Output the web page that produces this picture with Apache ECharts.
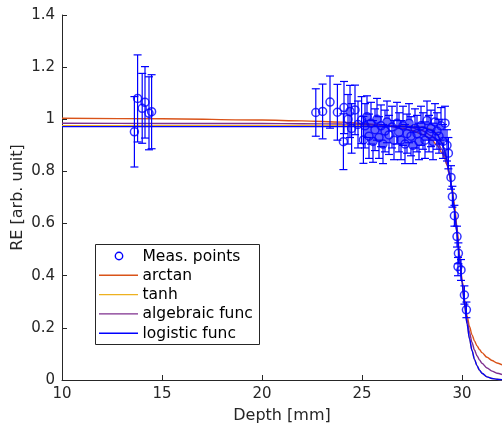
<!DOCTYPE html>
<html><head><meta charset="utf-8">
<script src="https://cdn.jsdelivr.net/npm/echarts@6/dist/echarts.min.js"></script>
<style>html,body{margin:0;padding:0;background:#fff}#c{width:502px;height:430px}</style>
</head><body><div id="c"></div>
<script>
// ---- data ----
const seriesNames = ['Meas. points', 'arctan', 'tanh', 'algebraic func', 'logistic func'];
const xTicks = [10, 15, 20, 25, 30];
const yTicks = [0, 0.2, 0.4, 0.6, 0.8, 1, 1.2, 1.4];

const measX = [13.62, 13.78, 14.01, 14.15, 14.35, 14.48,
  22.69, 23.03, 23.40, 23.77, 24.07, 24.10, 24.30, 24.40, 24.48, 24.65, 24.80, 24.98, 25.07,
  25.15, 25.25, 25.35, 25.45, 25.55, 25.65, 25.75, 25.85, 25.95, 26.05, 26.15, 26.25, 26.35, 26.50, 26.60,
  26.75, 26.85, 26.95, 27.05, 27.15, 27.25, 27.35, 27.45, 27.55, 27.65, 27.75, 27.85, 27.95, 28.05, 28.15,
  28.25, 28.35, 28.45, 28.55, 28.65, 28.75, 28.85, 28.95, 29.05, 29.15, 29.25, 29.32,
  29.45, 29.52, 29.62, 29.75, 29.82, 29.80, 29.95, 30.12, 30.22];
const measY = [0.952, 1.080, 1.042, 1.065, 1.023, 1.029,
  1.026, 1.030, 1.066, 1.027, 0.914, 1.045, 1.000, 1.030, 0.965, 1.036, 0.980, 0.997, 0.921,
  0.975, 1.010, 0.935, 0.985, 0.915, 0.960, 1.000, 0.930, 0.975, 0.905, 0.955, 0.990, 0.940, 0.970, 0.920,
  0.985, 0.950, 0.920, 0.975, 0.905, 0.945, 0.985, 0.935, 0.900, 0.965, 0.945, 0.915, 0.975, 0.955, 0.920,
  0.995, 0.945, 0.965, 0.915, 0.990, 0.955, 0.935, 0.975, 0.915, 0.985, 0.900, 0.870,
  0.777, 0.703, 0.630, 0.550, 0.486, 0.435, 0.422, 0.326, 0.269];
const measErr = [0.135, 0.167, 0.134, 0.137, 0.140, 0.142,
  0.091, 0.105, 0.100, 0.107, 0.107, 0.100, 0.095, 0.100, 0.095, 0.095, 0.090, 0.090, 0.090,
  0.085, 0.080, 0.085, 0.080, 0.080, 0.080, 0.080, 0.080, 0.080, 0.075, 0.080, 0.080, 0.075, 0.080, 0.075,
  0.080, 0.075, 0.075, 0.075, 0.075, 0.075, 0.075, 0.075, 0.070, 0.075, 0.070, 0.070, 0.075, 0.070, 0.070,
  0.075, 0.070, 0.070, 0.070, 0.070, 0.070, 0.065, 0.070, 0.065, 0.065, 0.060, 0.060,
  0.045, 0.040, 0.040, 0.040, 0.040, 0.035, 0.040, 0.035, 0.030];

const fitX = [10, 15, 20, 22, 24, 25, 26, 27, 27.5, 28, 28.5, 28.75, 29, 29.125, 29.25, 29.375, 29.5, 29.625,
  29.75, 29.875, 30, 30.125, 30.25, 30.375, 30.5, 30.625, 30.75, 30.875, 31, 31.25, 31.5, 31.75, 32];
const arctanY = [1.004, 1.002, 0.997, 0.994, 0.989, 0.984, 0.978, 0.966, 0.957, 0.943, 0.920, 0.900, 0.872, 0.851,
  0.825, 0.789, 0.740, 0.673, 0.586, 0.484, 0.387, 0.308, 0.248, 0.205, 0.174, 0.150, 0.131, 0.117, 0.105,
  0.087, 0.075, 0.065, 0.058];
const tanhY = [0.975, 0.975, 0.975, 0.975, 0.975, 0.975, 0.975, 0.975, 0.974, 0.972, 0.961, 0.945, 0.911, 0.884,
  0.846, 0.795, 0.731, 0.652, 0.563, 0.468, 0.375, 0.290, 0.217, 0.158, 0.113, 0.079, 0.055, 0.038, 0.026,
  0.012, 0.006, 0.003, 0.001];
const algebraicY = [0.985, 0.984, 0.984, 0.983, 0.982, 0.981, 0.978, 0.973, 0.967, 0.957, 0.936, 0.916, 0.884, 0.859,
  0.826, 0.783, 0.726, 0.654, 0.567, 0.474, 0.382, 0.301, 0.234, 0.183, 0.144, 0.115, 0.093, 0.077, 0.064,
  0.046, 0.034, 0.026, 0.021];
const logisticY = [0.972, 0.972, 0.972, 0.972, 0.972, 0.972, 0.972, 0.972, 0.971, 0.969, 0.958, 0.942, 0.908, 0.881,
  0.843, 0.792, 0.728, 0.650, 0.561, 0.467, 0.374, 0.289, 0.216, 0.158, 0.113, 0.079, 0.055, 0.038, 0.026,
  0.012, 0.006, 0.003, 0.001];

// ---- chart ----
const colors = ['#0000ff', '#D95319', '#EDB120', '#7E2F8E', '#0000ff'];
const FONT = 'DejaVu Sans';
const axisCol = '#262626';
const chart = echarts.init(document.getElementById('c'), null, {renderer: 'canvas'});

function curve(name, ys, color) {
  return {
    name: name, type: 'line', data: fitX.map((x, i) => [x, ys[i]]),
    showSymbol: false, smooth: 0.3, smoothMonotone: 'x',
    lineStyle: {color: color, width: 1.4}, itemStyle: {color: color}, z: 2, silent: true
  };
}

const legendRows = [256, 275.3, 294.6, 313.9, 333.2];
const legendGraphics = [{
  type: 'rect', shape: {x: 95.5, y: 244.5, width: 164, height: 100},
  style: {fill: '#fff', stroke: axisCol, lineWidth: 1}, z: 100
}];
seriesNames.forEach((n, i) => {
  const y = legendRows[i];
  if (i === 0) {
    legendGraphics.push({type: 'circle', shape: {cx: 119, cy: y, r: 3.7},
      style: {fill: 'none', stroke: colors[0], lineWidth: 1.4}, z: 101});
  } else {
    legendGraphics.push({type: 'line', shape: {x1: 99, y1: y, x2: 138, y2: y},
      style: {stroke: colors[i], lineWidth: 1.4}, z: 101});
  }
  legendGraphics.push({type: 'text', x: 142.5, y: y + 0.5,
    style: {text: n, fontSize: 15.5, fontFamily: FONT, fill: '#000', verticalAlign: 'middle', align: 'left'}, z: 101});
});

const option = {
  animation: false,
  backgroundColor: '#fff',
  textStyle: {fontFamily: FONT},
  grid: {left: 62, right: 0, top: 15, bottom: 50, containLabel: false, outerBoundsMode: 'none'},
  xAxis: {
    type: 'value', min: 10, max: 32, interval: 5,
    name: 'Depth [mm]', nameLocation: 'middle', nameGap: 27.5, nameMoveOverlap: false,
    nameTextStyle: {fontSize: 16, color: axisCol, fontFamily: FONT},
    axisLine: {onZero: false, lineStyle: {color: axisCol, width: 1}},
    axisTick: {inside: true, length: 5, customValues: xTicks, lineStyle: {color: axisCol}},
    axisLabel: {customValues: xTicks, fontSize: 15, color: axisCol, margin: 7, fontFamily: FONT},
    splitLine: {show: false}
  },
  yAxis: {
    type: 'value', min: 0, max: 1.4, interval: 0.2,
    name: 'RE [arb. unit]', nameLocation: 'middle', nameGap: 36, nameMoveOverlap: false,
    nameTextStyle: {fontSize: 16, color: axisCol, fontFamily: FONT},
    axisLine: {show: true, onZero: false, lineStyle: {color: axisCol, width: 1}},
    axisTick: {show: true, inside: true, length: 5, customValues: yTicks, lineStyle: {color: axisCol}},
    axisLabel: {customValues: yTicks, fontSize: 15, color: axisCol, margin: 7, fontFamily: FONT},
    splitLine: {show: false}
  },
  graphic: legendGraphics,
  series: [
    curve(seriesNames[1], arctanY, colors[1]),
    curve(seriesNames[2], tanhY, colors[2]),
    curve(seriesNames[3], algebraicY, colors[3]),
    curve(seriesNames[4], logisticY, colors[4]),
    {
      name: seriesNames[0] + ' err', type: 'custom', z: 5, silent: true,
      data: measX.map((x, i) => [x, measY[i] - measErr[i], measY[i] + measErr[i]]),
      renderItem: function (params, api) {
        const x = api.value(0);
        const p1 = api.coord([x, api.value(1)]);
        const p2 = api.coord([x, api.value(2)]);
        const hw = 4;
        const st = {stroke: colors[0], lineWidth: 1.2};
        return {type: 'group', children: [
          {type: 'line', shape: {x1: p1[0], y1: p1[1], x2: p2[0], y2: p2[1]}, style: st},
          {type: 'line', shape: {x1: p1[0] - hw, y1: p1[1], x2: p1[0] + hw, y2: p1[1]}, style: st},
          {type: 'line', shape: {x1: p2[0] - hw, y1: p2[1], x2: p2[0] + hw, y2: p2[1]}, style: st}
        ]};
      }
    },
    {
      name: seriesNames[0], type: 'scatter', z: 6, silent: true,
      data: measX.map((x, i) => [x, measY[i]]),
      symbol: 'circle', symbolSize: 8,
      itemStyle: {color: 'transparent', borderColor: colors[0], borderWidth: 1.5}
    }
  ]
};
chart.setOption(option);
</script>
</body></html>
